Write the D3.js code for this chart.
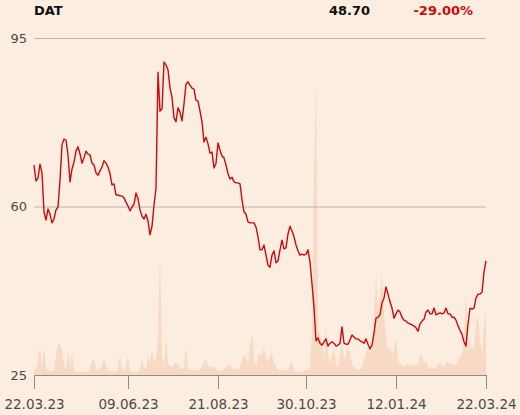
<!DOCTYPE html>
<html>
<head>
<meta charset="utf-8">
<script src="https://cdn.jsdelivr.net/npm/d3@7"></script>
<style>
  html, body { margin: 0; padding: 0; background: #fcede1; }
  svg { display: block; font-family: "DejaVu Sans", sans-serif; }
</style>
</head>
<body>
<svg id="chart" width="520" height="415"></svg>
<script>
// ---- data ----
const ticker = "DAT";
const lastPrice = "48.70";
const change = "-29.00%";

const yTicks = [25, 60, 95];
const dateTickIndex = [0, 47, 92, 136, 181, 226];
const dateTickLabels = ["22.03.23", "09.06.23", "21.08.23", "30.10.23", "12.01.24", "22.03.24"];

const close = [
  68.6, 65.3, 65.9, 68.8, 67.0, 58.9, 57.2, 59.5, 58.4, 56.6,
  57.4, 59.3, 59.9, 65.5, 72.8, 74.0, 73.8, 70.7, 65.1, 67.8,
  69.2, 71.5, 72.4, 70.9, 69.0, 70.1, 71.5, 70.9, 70.7, 69.0,
  68.6, 67.0, 66.5, 67.4, 68.2, 69.5, 69.0, 68.2, 66.8, 64.5,
  64.7, 62.4, 62.4, 62.2, 62.2, 61.8, 60.9, 60.1, 59.1, 59.9,
  60.5, 62.8, 61.6, 59.3, 58.0, 57.4, 58.4, 57.0, 54.1, 55.9,
  60.3, 63.8, 87.9, 79.8, 80.3, 90.0, 89.4, 88.4, 84.6, 82.7,
  78.4, 77.6, 80.5, 79.6, 77.8, 81.3, 85.4, 85.9, 85.2, 84.6,
  84.4, 82.1, 81.9, 79.8, 77.6, 73.4, 74.4, 73.0, 71.1, 71.3,
  68.0, 69.0, 73.2, 71.7, 70.5, 70.1, 68.6, 66.8, 65.7, 66.1,
  65.1, 64.9, 64.9, 64.7, 61.4, 58.9, 58.4, 56.8, 56.6, 56.6,
  56.6, 55.7, 53.7, 51.0, 51.0, 52.0, 49.9, 47.8, 47.4, 49.9,
  50.8, 48.3, 48.7, 51.0, 53.0, 51.2, 51.4, 54.3, 55.9, 54.9,
  53.7, 52.0, 50.8, 49.9, 50.1, 49.9, 50.1, 51.0, 48.5, 43.9,
  39.1, 32.1, 32.7, 31.6, 31.2, 31.9, 32.5, 31.0, 31.6, 31.9,
  31.6, 31.0, 31.2, 31.6, 35.0, 31.6, 31.4, 31.4, 32.3, 33.3,
  32.9, 32.5, 32.5, 32.1, 31.9, 31.6, 32.5, 31.4, 30.4, 31.2,
  33.7, 36.8, 37.0, 37.5, 40.0, 41.0, 43.3, 41.8, 40.2, 38.9,
  36.8, 37.7, 38.5, 38.1, 37.0, 36.4, 36.2, 35.8, 35.6, 35.4,
  35.2, 34.8, 34.1, 35.6, 36.2, 36.6, 38.1, 38.5, 37.7, 37.7,
  38.9, 37.5, 37.7, 37.9, 37.7, 37.9, 38.9, 37.7, 37.7, 37.0,
  37.0, 36.4, 35.2, 34.3, 33.5, 31.9, 31.0, 35.6, 38.9, 38.7,
  38.9, 41.0, 41.8, 41.8, 42.2, 46.4, 48.7
];

const volume = [
  6, 6, 15, 28, 6, 28, 8, 4, 4, 4,
  4, 20, 32, 30, 25, 10, 5, 24, 8, 22,
  4, 3, 3, 3, 3, 3, 3, 3, 6, 14,
  16, 6, 4, 8, 8, 18, 8, 4, 4, 4,
  4, 4, 6, 20, 6, 4, 10, 18, 4, 3,
  3, 3, 3, 6, 16, 8, 5, 18, 12, 25,
  12, 16, 40, 124, 20, 10, 39, 12, 8, 8,
  11, 12, 10, 8, 5, 8, 28, 6, 5, 5,
  5, 5, 4, 5, 10, 12, 17, 9, 8, 8,
  8, 6, 4, 4, 4, 6, 7, 9, 10, 7,
  5, 6, 6, 8, 15, 20, 18, 12, 30, 42,
  15, 8, 18, 22, 20, 28, 18, 12, 20, 22,
  12, 8, 6, 4, 6, 4, 4, 5, 10, 14,
  4, 3, 3, 3, 4, 3, 5, 5, 8, 40,
  200, 298, 45, 42, 30, 15, 50, 20, 12, 18,
  28, 10, 8, 20, 35, 15, 20, 28, 22, 10,
  8, 6, 5, 6, 8, 15, 22, 28, 20, 30,
  55, 100, 65, 80, 103, 60, 38, 25, 28, 20,
  25, 38, 15, 12, 10, 8, 10, 12, 8, 12,
  10, 10, 12, 20, 18, 12, 14, 8, 6, 8,
  6, 8, 10, 12, 10, 8, 12, 14, 10, 12,
  10, 10, 14, 18, 22, 30, 85, 22, 35, 25,
  30, 50, 60, 35, 20, 50, 65
];

// ---- layout ----
const mLeft = 34, mRight = 486, mTop = 38, mBottom = 375;
const svg = d3.select("#chart");

const n = close.length;
const x = d3.scaleLinear().domain([0, n - 1]).range([mLeft, mRight]);
const y = d3.scaleLinear().domain([25, 95]).range([mBottom, mTop]);
const yVol = d3.scaleLinear().domain([0, d3.max(volume) / 0.884]).range([mBottom, mTop]);

// volume area
svg.append("path")
  .datum(volume)
  .attr("fill", "#f8d9c3")
  .attr("d", d3.area()
    .x((d, i) => x(i))
    .y0(mBottom)
    .y1(d => yVol(d)));

// gridlines (except baseline)
svg.append("g").selectAll("line")
  .data(yTicks.filter(t => t !== 25))
  .join("line")
  .attr("x1", mLeft).attr("x2", mRight)
  .attr("y1", d => y(d) + 0.5).attr("y2", d => y(d) + 0.5)
  .attr("stroke", "#b9b6b3").attr("stroke-width", 1);

// y labels
svg.append("g").selectAll("text")
  .data(yTicks)
  .join("text")
  .attr("x", 27)
  .attr("y", d => y(d))
  .attr("dy", "0.35em")
  .attr("text-anchor", "end")
  .attr("font-size", 13)
  .attr("fill", "#4a4a4a")
  .text(d => d);

// x axis
const xAxis = d3.axisBottom(x)
  .tickValues(dateTickIndex)
  .tickFormat((d, i) => dateTickLabels[i])
  .tickSize(14)
  .tickSizeOuter(0)
  .tickPadding(10);

const gx = svg.append("g")
  .attr("transform", `translate(0,${mBottom})`)
  .call(xAxis);
gx.select(".domain").attr("stroke", "#8c8c8c");
gx.selectAll(".tick line").attr("stroke", "#8c8c8c");
gx.selectAll(".tick text")
  .attr("font-size", 13.5)
  .attr("font-family", "DejaVu Sans, sans-serif")
  .attr("fill", "#4a4a4a");

// price line
svg.append("path")
  .datum(close)
  .attr("fill", "none")
  .attr("stroke", "#cc0a0a")
  .attr("stroke-width", 1.4)
  .attr("stroke-linejoin", "round")
  .attr("d", d3.line()
    .x((d, i) => x(i))
    .y(d => y(d)));

// header
svg.append("text")
  .attr("x", 34).attr("y", 15)
  .attr("font-size", 13).attr("font-weight", "bold")
  .attr("fill", "#111")
  .text(ticker);
svg.append("text")
  .attr("x", 370).attr("y", 15)
  .attr("text-anchor", "end")
  .attr("font-size", 13).attr("font-weight", "bold")
  .attr("fill", "#111")
  .text(lastPrice);
svg.append("text")
  .attr("x", 473).attr("y", 15)
  .attr("text-anchor", "end")
  .attr("font-size", 13).attr("font-weight", "bold")
  .attr("fill", "#cc0a0a")
  .text(change);
</script>
</body>
</html>
